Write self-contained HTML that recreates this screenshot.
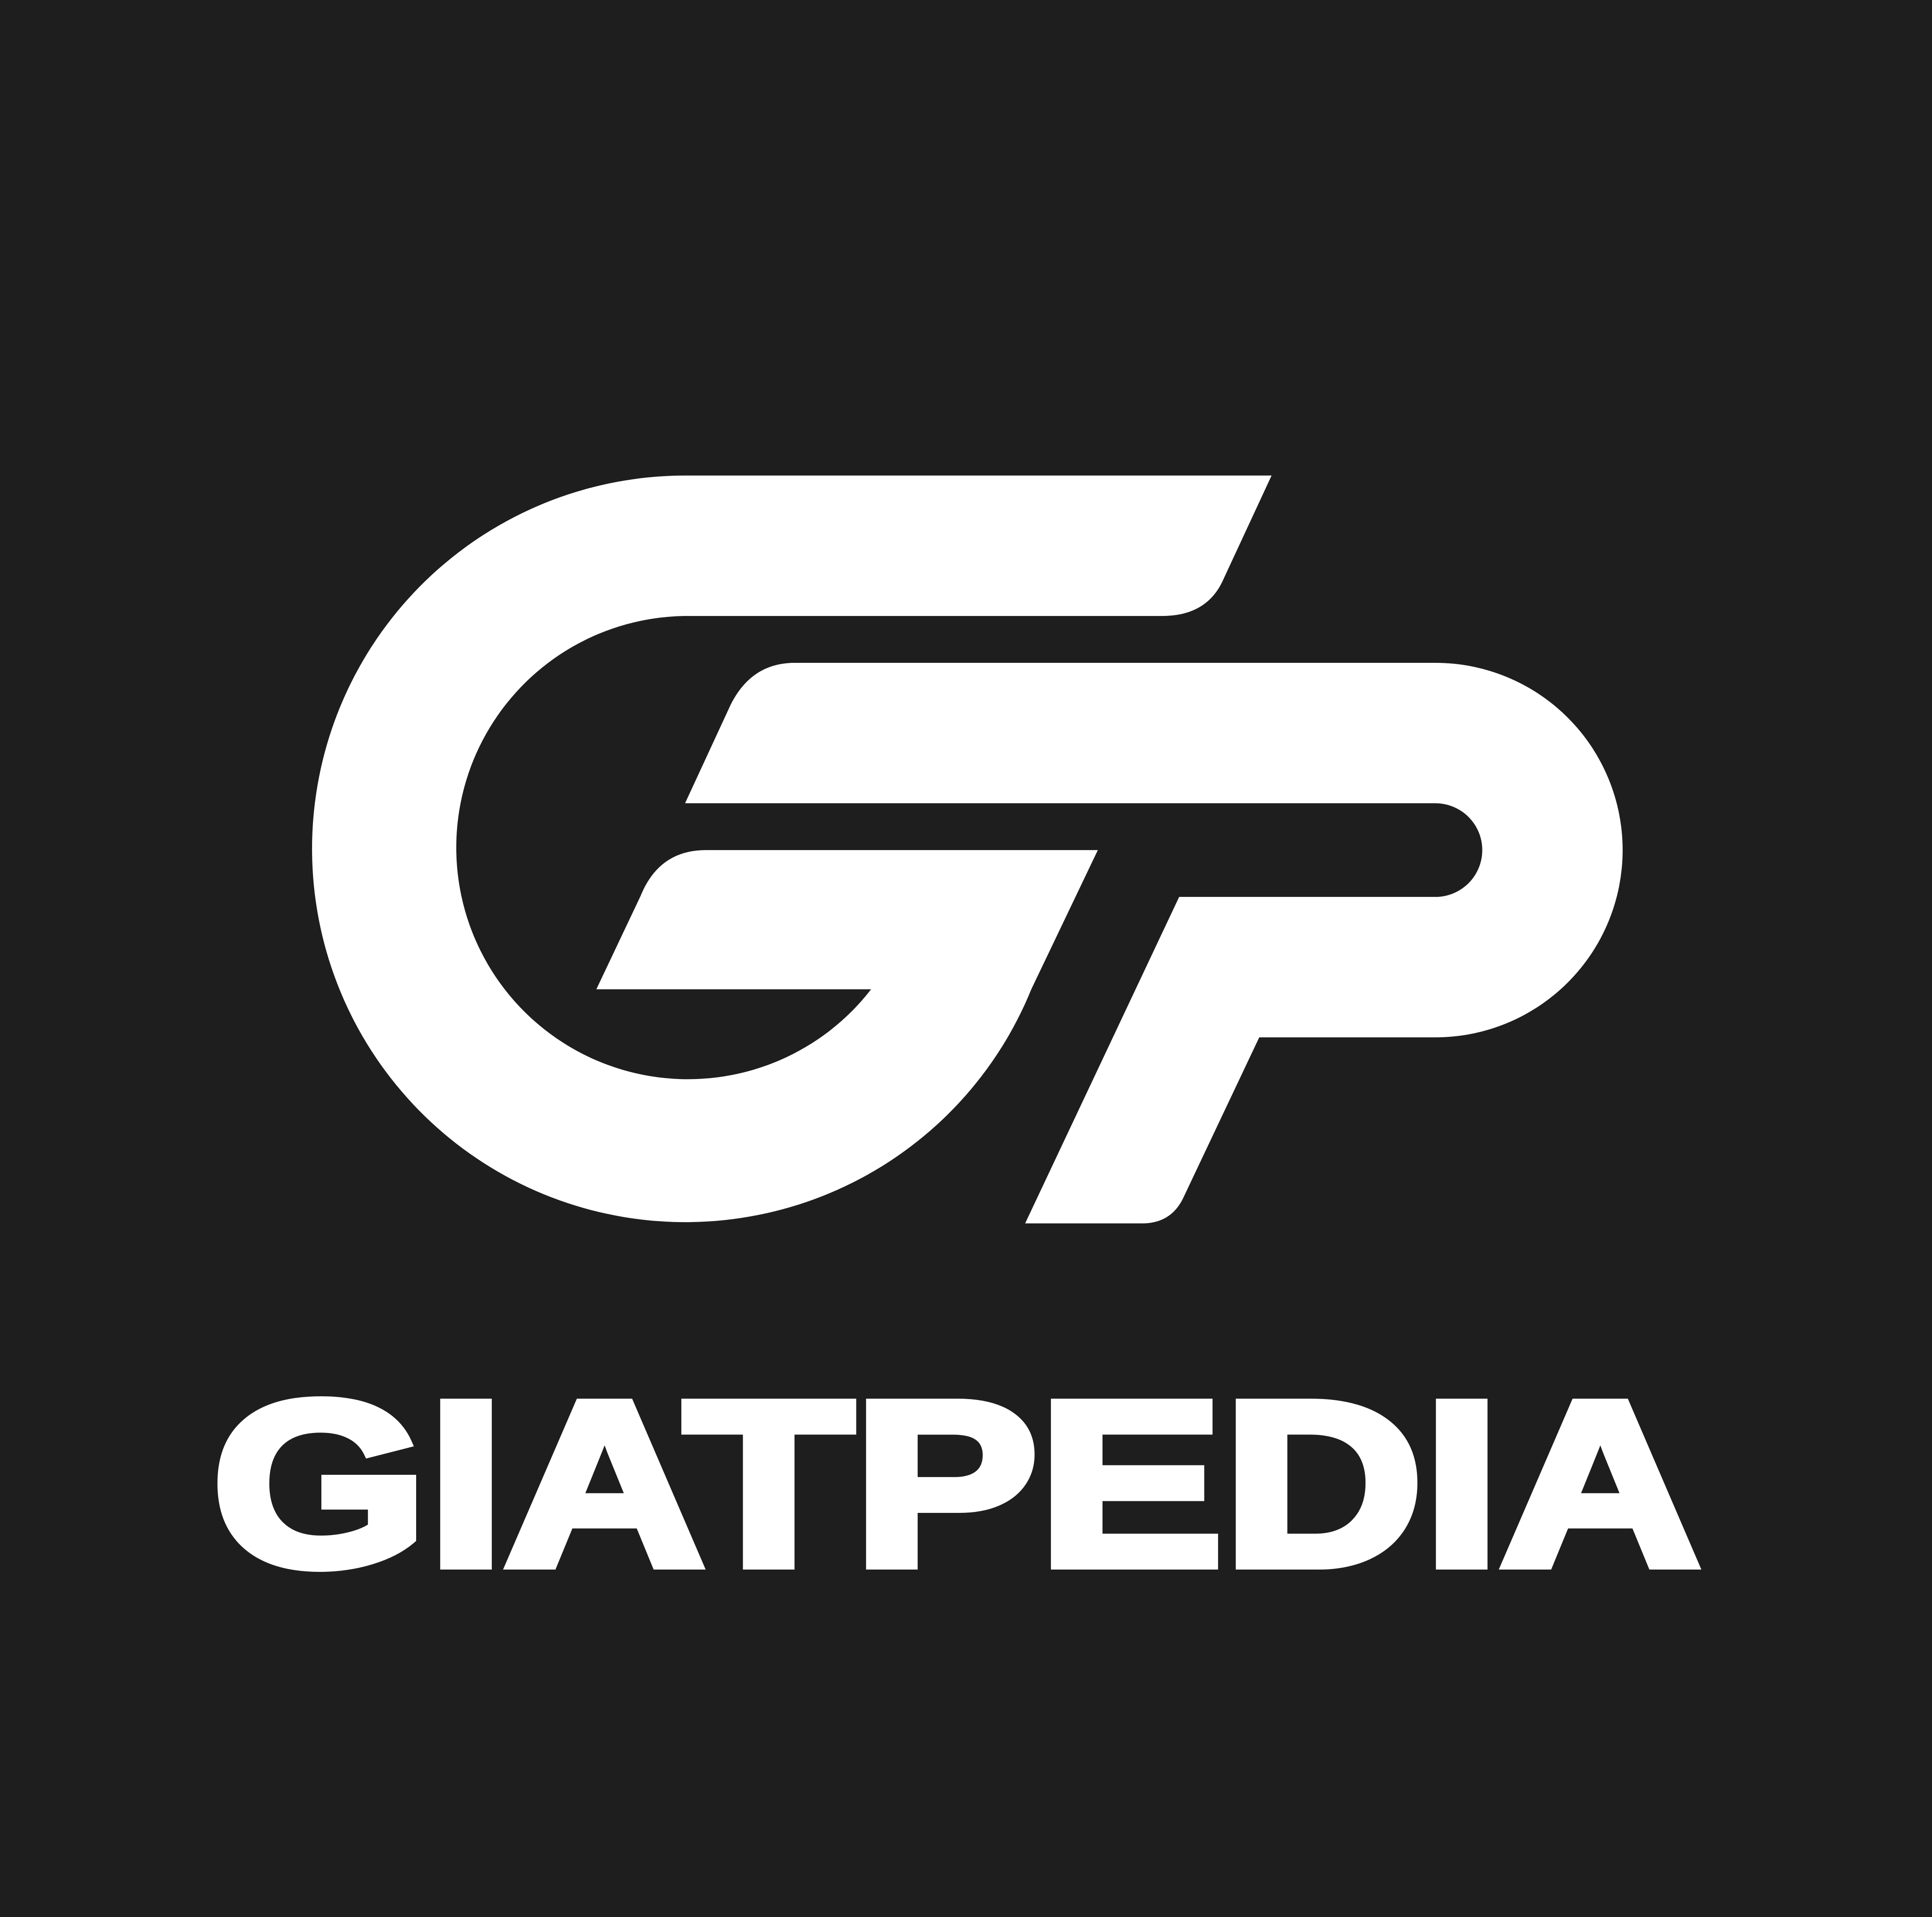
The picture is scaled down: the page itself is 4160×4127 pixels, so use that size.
<!DOCTYPE html>
<html>
<head>
<meta charset="utf-8">
<style>
  html, body { margin: 0; padding: 0; background: #1e1e1e; }
  body { width: 4160px; height: 4127px; overflow: hidden; }
  svg { display: block; }
</style>
</head>
<body>
<svg width="4160" height="4127" viewBox="0 0 1568 1556" preserveAspectRatio="none" xmlns="http://www.w3.org/2000/svg">
  <rect x="0" y="0" width="1568" height="1556" fill="#1e1e1e"/>
  <path fill="#ffffff"
    d="M 1032 386 L 555 386 A 303 303 0 1 0 837 803 L 891 690 L 573 690 Q 535 690 520 727 L 484 803 L 707 803 A 188 188 0 1 1 555 500 L 943 500 Q 980 500 993 470 Z"/>
  <path fill="#ffffff"
    d="M 645 538 L 1165 538 A 152 152 0 0 1 1165 842 L 1022 842 L 960 973 Q 950 993 927 993 L 832 993 L 957 728 L 1165 728 A 38 38 0 0 0 1165 652 L 556 652 L 593 572 Q 610 538 645 538 Z"/>
  <text x="172" y="1270" textLength="1208" lengthAdjust="spacingAndGlyphs"
    font-family="'Liberation Sans', 'DejaVu Sans', sans-serif" font-weight="bold" font-size="190" fill="#ffffff" stroke="#ffffff" stroke-width="8" stroke-linejoin="miter">GIATPEDIA</text>
</svg>
</body>
</html>
